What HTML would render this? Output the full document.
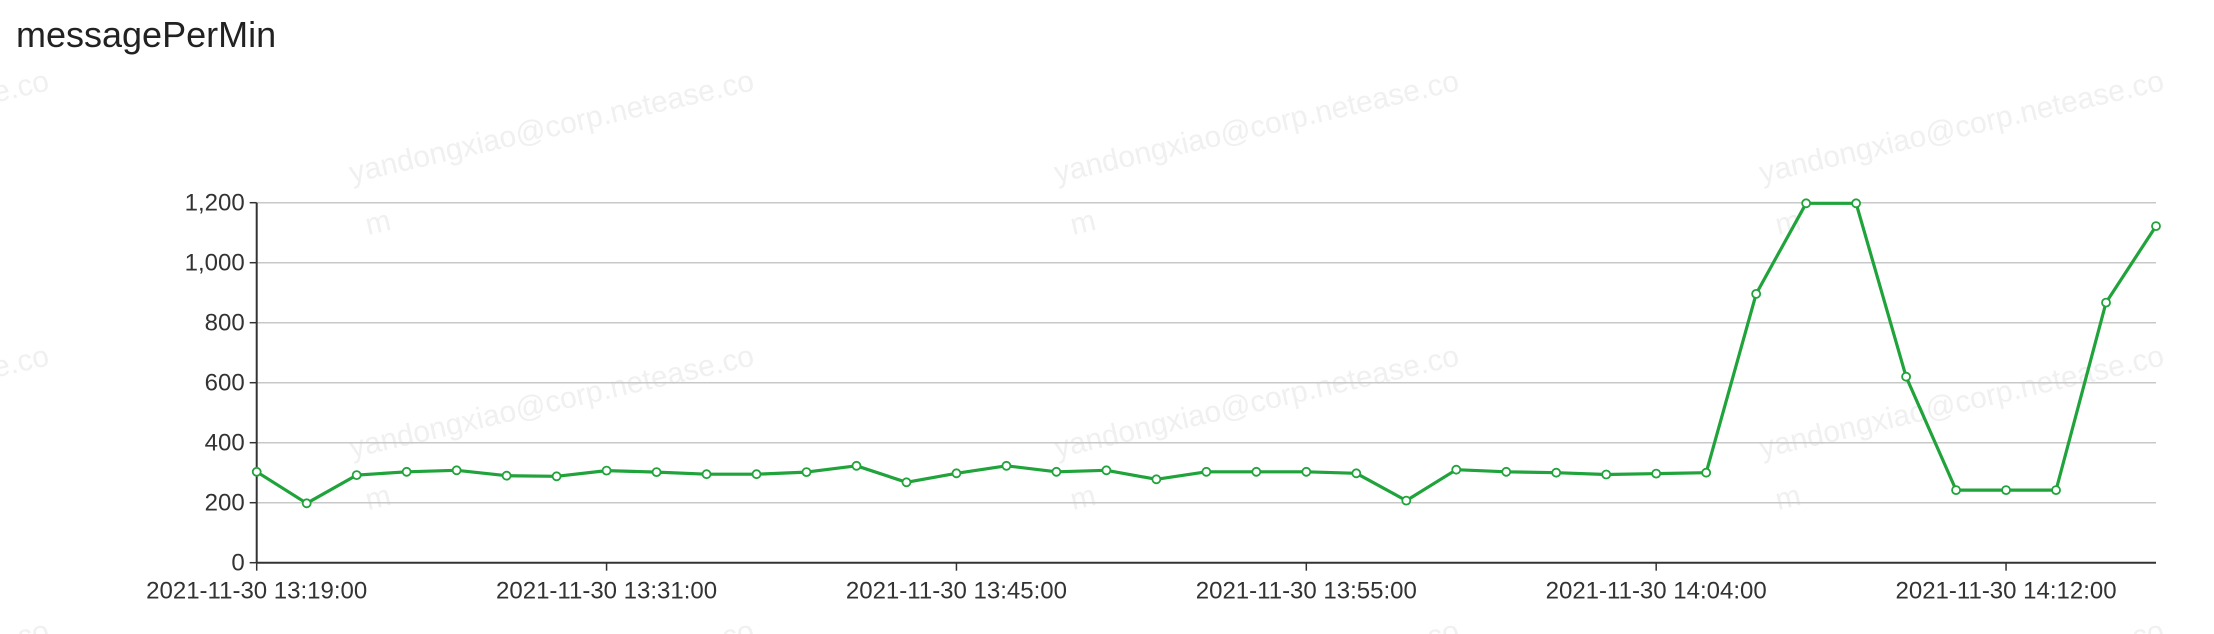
<!DOCTYPE html>
<html><head><meta charset="utf-8"><style>
html,body{margin:0;padding:0;background:#fff;}
body{width:2214px;height:634px;overflow:hidden;font-family:"Liberation Sans",sans-serif;}
svg{display:block;}
</style></head><body>
<svg id="chart" width="2214" height="634" xmlns="http://www.w3.org/2000/svg">
<g id="wm"></g>
<text x="16" y="47" font-size="36" fill="#222" font-family="Liberation Sans, sans-serif">messagePerMin</text>
<g id="grid"></g>
<g id="axes"></g>
<g id="series"></g>
</svg>
<script>
const values = [303,198,292,303,308,290,288,307,302,295,295,302,323,268,298,323,303,308,278,303,303,303,298,207,310,303,300,294,297,300,896,1198,1198,620,242,242,242,867,1122];
const tickIndices = [0,7,14,21,28,35];
const tickLabels = ["2021-11-30 13:19:00","2021-11-30 13:31:00","2021-11-30 13:45:00","2021-11-30 13:55:00","2021-11-30 14:04:00","2021-11-30 14:12:00"];
const yTicks = [0,200,400,600,800,1000,1200];
const yTickLabels = ["0","200","400","600","800","1,000","1,200"];

const NS="http://www.w3.org/2000/svg";
const L=256.7,R=2156,T=202.7,B=562.7,yMax=1200;
const xs=i=>L+(R-L)*i/(values.length-1);
const ys=v=>B-(B-T)*v/yMax;
function mk(tag,attrs,parent){const e=document.createElementNS(NS,tag);for(const k in attrs)e.setAttribute(k,attrs[k]);parent.appendChild(e);return e;}

const wm=document.getElementById('wm');
for(let r=0;r<3;r++){for(let c=-1;c<3;c++){
  const x=c*705+352, y=r*275+183;
  const t=mk('text',{x:x,y:y,'font-size':30,fill:'#f0f0f0',transform:`rotate(-13 ${x} ${y})`},wm);
  
  
  t.textContent='yandongxiao@corp.netease.co';
  const m=mk('text',{x:x+16,y:y+52,'font-size':30,fill:'#f0f0f0',transform:`rotate(-13 ${x+16} ${y+52})`},wm);
  
  
  m.textContent='m';
}}

const grid=document.getElementById('grid'), axes=document.getElementById('axes');
yTicks.forEach((v,i)=>{
  const y=ys(v);
  if(v>0){const g=mk('line',{x1:L,x2:R,y1:y,y2:y,stroke:'#c8c8c8','stroke-width':1.5},grid);
  
  }
  mk('line',{x1:L-7,x2:L,y1:y,y2:y,stroke:'#333','stroke-width':1.5},axes);
  const t=mk('text',{x:L-12,y:y+8,'font-size':24,fill:'#333','text-anchor':'end'},axes);
  
  
  t.textContent=yTickLabels[i];
});
mk('line',{x1:L,x2:L,y1:T,y2:B,stroke:'#333','stroke-width':2},axes);
mk('line',{x1:L,x2:R,y1:B,y2:B,stroke:'#333','stroke-width':2},axes);
tickIndices.forEach((idx,i)=>{
  const x=xs(idx);
  mk('line',{x1:x,x2:x,y1:B,y2:B+8,stroke:'#333','stroke-width':1.5},axes);
  const t=mk('text',{x:x,y:B+36,'font-size':24,fill:'#333','text-anchor':'middle'},axes);
  
  
  t.textContent=tickLabels[i];
});

const s=document.getElementById('series');
const line=mk('polyline',{points:values.map((v,i)=>xs(i)+','+ys(v)).join(' '),fill:'none',stroke:'#1fa33a','stroke-width':3.2,'stroke-linejoin':'round'},s);


values.forEach((v,i)=>{
  const c=mk('circle',{cx:xs(i),cy:ys(v),r:4,fill:'#fff',stroke:'#1fa33a','stroke-width':1.8},s);
  
  
});
</script>
</body></html>
